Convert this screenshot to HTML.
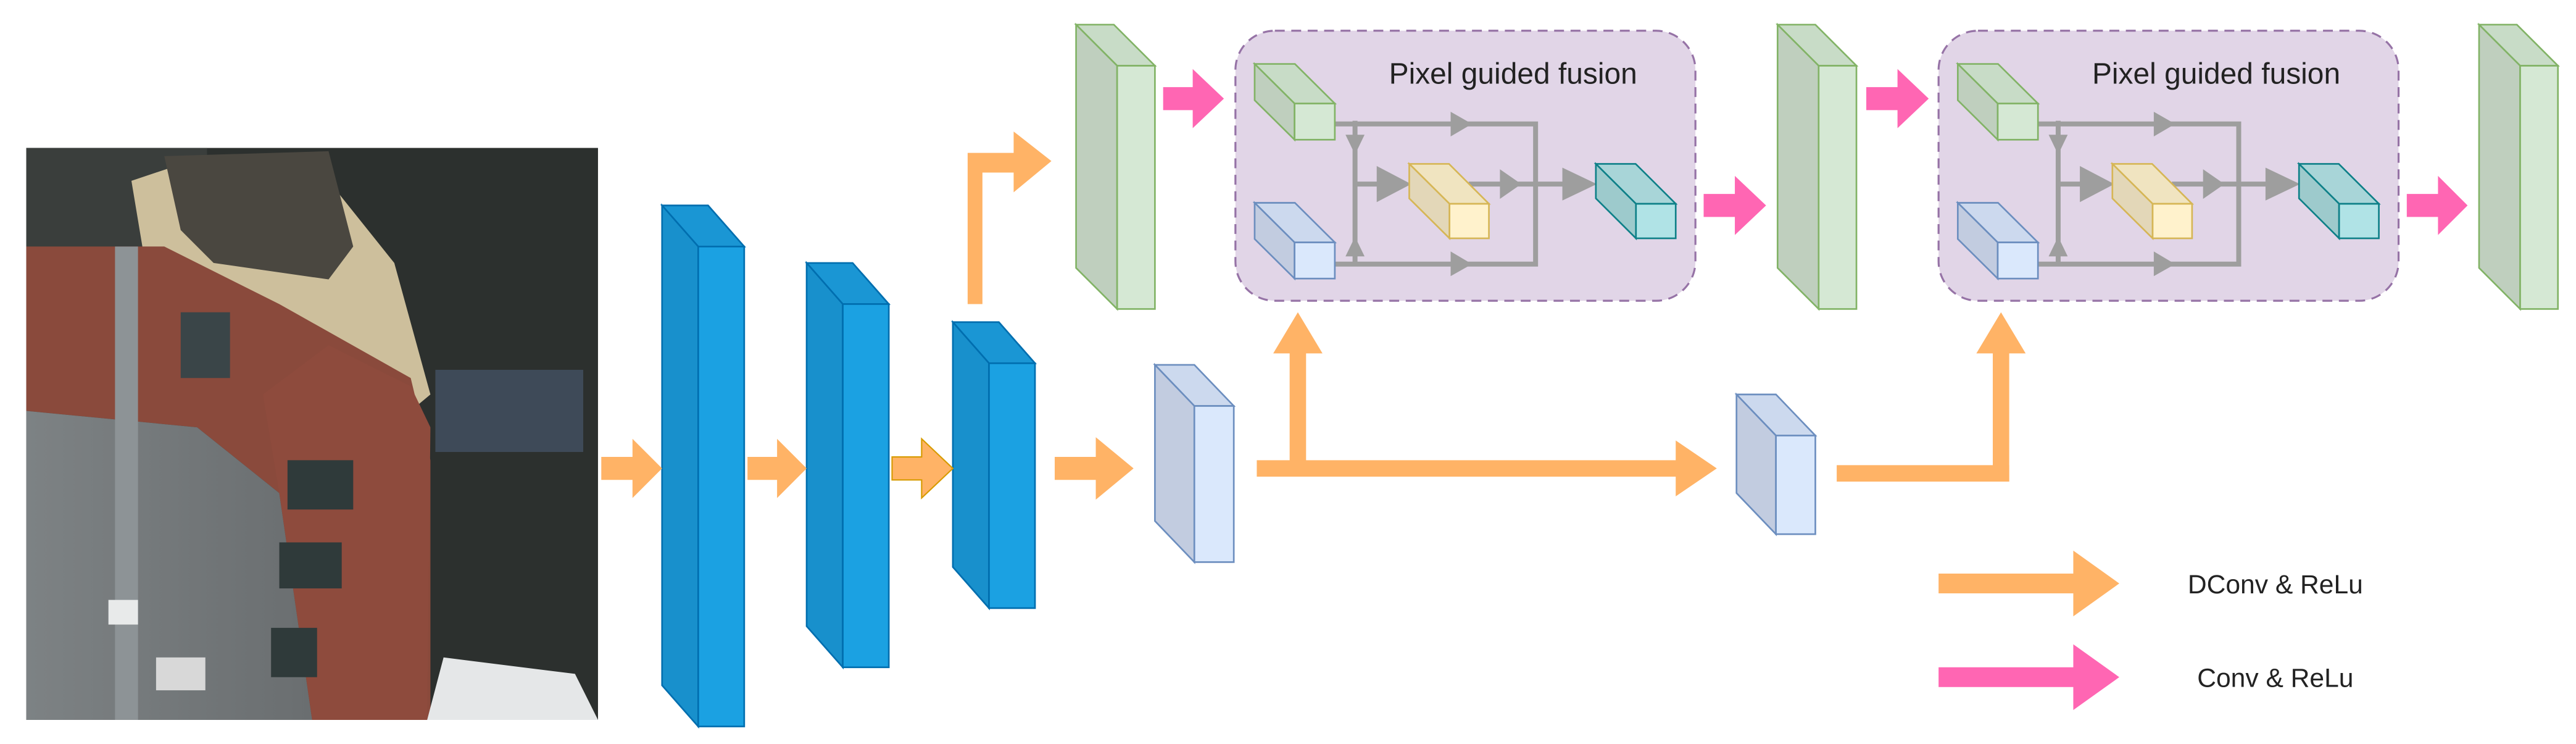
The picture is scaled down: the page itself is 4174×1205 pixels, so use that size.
<!DOCTYPE html>
<html><head><meta charset="utf-8"><style>html,body{margin:0;padding:0;background:#fff}svg{display:block}</style></head>
<body>
<svg width="4174" height="1205" viewBox="0 0 1568 452.67" preserveAspectRatio="none" xmlns="http://www.w3.org/2000/svg" font-family="Liberation Sans, sans-serif">
<defs>
<linearGradient id="bg" x1="0" y1="0" x2="1" y2="0"><stop offset="0" stop-color="#7d8284"/><stop offset="1" stop-color="#6a6e70"/></linearGradient>
</defs>
<!-- photo -->
<g>
<rect x="16" y="90" width="348" height="348" fill="#2c302e"/>
<rect x="16" y="90" width="110" height="60" fill="#3a3e3c"/>
<polygon points="80,110 110,100 200,110 240,160 262,240 250,250 175,200 120,170 90,170" fill="#cdbf9c"/>
<polygon points="100,95 200,92 215,150 200,170 130,160 110,140" fill="#4a4740"/>
<polygon points="16,150 100,150 170,185 250,230 262,280 262,438 190,438 170,300 120,260 16,250" fill="#8a4a3c"/>
<polygon points="16,250 120,260 170,300 190,438 16,438" fill="url(#bg)"/>
<polygon points="160,240 170,300 190,438 260,438 262,260 250,235 200,210" fill="#8e4b3d"/>
<rect x="70" y="150" width="14" height="288" fill="#8d9396"/>
<rect x="110" y="190" width="30" height="40" fill="#3a4548"/>
<rect x="175" y="280" width="40" height="30" fill="#2f3a3a"/>
<rect x="170" y="330" width="38" height="28" fill="#2f3a3a"/>
<rect x="165" y="382" width="28" height="30" fill="#2f3a3a"/>
<rect x="66" y="365" width="18" height="15" fill="#e8eaea"/>
<rect x="95" y="400" width="30" height="20" fill="#d8d8d8"/>
<rect x="265" y="225" width="90" height="50" fill="#3e4a58"/>
<polygon points="270,400 350,410 364,438 260,438" fill="#e5e7e8"/>
</g>

<g stroke-width="1">
<g fill="#1ba1e2" stroke="#006eaf">
<polygon points="403,125 431,125 453,150 425,150" fill="#1a96d4"/>
<polygon points="403,125 425,150 425,442 403,417" fill="#1890cc"/>
<rect x="425" y="150" width="28" height="292"/>
<polygon points="491,160 519,160 541,185 513,185" fill="#1a96d4"/>
<polygon points="491,160 513,185 513,406 491,381" fill="#1890cc"/>
<rect x="513" y="185" width="28" height="221"/>
<polygon points="580,196 608,196 630,221 602,221" fill="#1a96d4"/>
<polygon points="580,196 602,221 602,370 580,345" fill="#1890cc"/>
<rect x="602" y="221" width="28" height="149"/>
</g>
<g fill="#dae8fc" stroke="#6c8ebf">
<polygon points="703,222 727,222 751,247 727,247" fill="#ccd9ee"/>
<polygon points="703,222 727,247 727,342 703,317" fill="#c2cce0"/>
<rect x="727" y="247" width="24" height="95"/>
<polygon points="1057,240 1081,240 1105,265 1081,265" fill="#ccd9ee"/>
<polygon points="1057,240 1081,265 1081,325 1057,300" fill="#c2cce0"/>
<rect x="1081" y="265" width="24" height="60"/>
</g>
<g fill="#d5e8d4" stroke="#82b366">
<polygon points="655,15 678,15 703,40 680,40" fill="#c8dcc7"/>
<polygon points="655,15 680,40 680,188 655,163" fill="#bfcfbe"/>
<rect x="680" y="40" width="23" height="148"/>
<polygon points="1082,15 1105,15 1130,40 1107,40" fill="#c8dcc7"/>
<polygon points="1082,15 1107,40 1107,188 1082,163" fill="#bfcfbe"/>
<rect x="1107" y="40" width="23" height="148"/>
<polygon points="1509,15 1532,15 1557,40 1534,40" fill="#c8dcc7"/>
<polygon points="1509,15 1534,40 1534,188 1509,163" fill="#bfcfbe"/>
<rect x="1534" y="40" width="23" height="148"/>
</g>
</g>

<g fill="#ffb366">
<polygon points="366,278 385,278 385,267 403,285 385,303 385,292 366,292"/>
<polygon points="455,278 473,278 473,267 491,285 473,303 473,292 455,292"/>
<polygon points="543,278 561,278 561,267 580,285 561,303 561,292 543,292" stroke="#d79b00" stroke-width="0.8"/>
<polygon points="642,278 667,278 667,266 690,285 667,304 667,292 642,292"/>
<polygon points="589,185 598,185 598,105 617,105 617,80 640,98 617,117 617,105 617,105 617,93 589,93"/>
<polygon points="765,280 1020,280 1020,268 1045,285 1020,302 1020,290 765,290"/>
<polygon points="785,290 785,215 775,215 790,190 805,215 795,215 795,290"/>
<polygon points="1118,283 1223,283 1223,293 1118,293"/>
<polygon points="1213,293 1213,215 1203,215 1218,190 1233,215 1223,215 1223,293"/>
<polygon points="1180,349 1262,349 1262,335 1290,355 1262,375 1262,361 1180,361"/>
</g>
<g fill="#ff66b3">
<polygon points="708,53 726,53 726,42 745,60 726,78 726,67 708,67"/>
<polygon points="1037,118 1056,118 1056,107 1075,125 1056,143 1056,132 1037,132"/>
<polygon points="1136,53 1155,53 1155,42 1174,60 1155,78 1155,67 1136,67"/>
<polygon points="1465,118 1484,118 1484,107 1502,125 1484,143 1484,132 1465,132"/>
<polygon points="1180,406 1262,406 1262,392 1290,412 1262,432 1262,418 1180,418"/>
</g>
<text x="1385" y="361" font-size="16" text-anchor="middle" fill="#222">DConv &amp; ReLu</text>
<text x="1385" y="418" font-size="16" text-anchor="middle" fill="#222">Conv &amp; ReLu</text>

<g id="fb">
<rect x="752" y="18.7" width="280" height="164.3" rx="24" ry="24" fill="#e1d5e7" stroke="#9673a6" stroke-width="1.2" stroke-dasharray="6,4"/>
<text x="921" y="51" font-size="18" text-anchor="middle" fill="#222">Pixel guided fusion</text>
<g stroke="#9e9e9e" stroke-width="3" fill="none">
<polyline points="812.5,75.4 934.7,75.4 934.7,160.7 812.5,160.7"/>
<line x1="824.8" y1="73.5" x2="824.8" y2="162"/>
<line x1="824.8" y1="112" x2="845" y2="112"/>
<line x1="894" y1="112" x2="960" y2="112"/>
</g>
<g fill="#9e9e9e">
<polygon points="883,68 896,75.4 883,83"/>
<polygon points="883,153 896,160.7 883,168"/>
<polygon points="819,82 830.6,82 824.8,94"/>
<polygon points="819,156 830.6,156 824.8,144"/>
<polygon points="838,101 859,112 838,123"/>
<polygon points="913,103 926,112 913,121"/>
<polygon points="951,102 972,112 951,122"/>
</g>
<g stroke-width="1">
<g fill="#d5e8d4" stroke="#82b366">
<polygon points="763.7,38.9 788.2,38.9 812.5,63 788,63" fill="#c8dcc7"/>
<polygon points="763.7,38.9 788,63 788,85 763.7,61" fill="#bfcfbe"/>
<rect x="788" y="63" width="24.5" height="22"/>
</g>
<g fill="#dae8fc" stroke="#6c8ebf">
<polygon points="763.7,123.4 788.2,123.4 812.5,147.5 788,147.5" fill="#ccd9ee"/>
<polygon points="763.7,123.4 788,147.5 788,169.5 763.7,145.4" fill="#c2cce0"/>
<rect x="788" y="147.5" width="24.5" height="22"/>
</g>
<g fill="#fff2cc" stroke="#d6b656">
<polygon points="857.8,99.7 882,99.7 906.3,124 882.3,124" fill="#f0e4c0"/>
<polygon points="857.8,99.7 882.3,124 882.3,145 857.8,120.7" fill="#e3d7b8"/>
<rect x="882.3" y="124" width="24" height="21"/>
</g>
<g fill="#b0e3e6" stroke="#0e8088">
<polygon points="971.4,99.7 995.6,99.7 1020,124 995.8,124" fill="#a8d5d8"/>
<polygon points="971.4,99.7 995.8,124 995.8,145 971.4,120.7" fill="#9dcacc"/>
<rect x="995.8" y="124" width="24.2" height="21"/>
</g>
</g>
</g>
<use href="#fb" transform="translate(428,0)"/>
</svg>
</body></html>
